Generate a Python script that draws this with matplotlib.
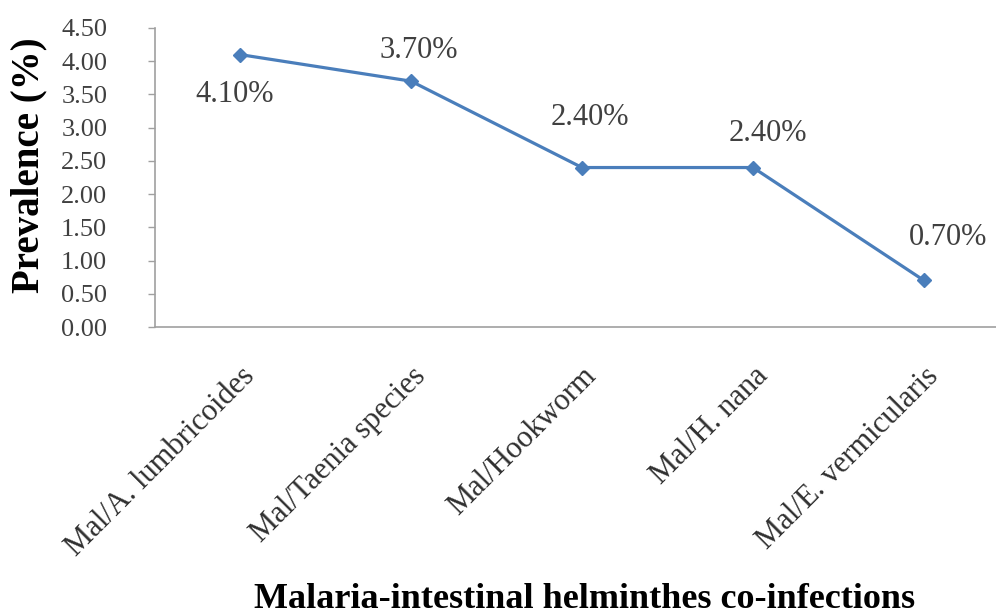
import matplotlib
matplotlib.use("Agg")
import matplotlib.pyplot as plt
from matplotlib.ticker import MultipleLocator

categories = ["Mal/A. lumbricoides", "Mal/Taenia species", "Mal/Hookworm",
              "Mal/H. nana", "Mal/E. vermicularis"]
prevalence = [4.10, 3.70, 2.40, 2.40, 0.70]
value_labels = ["4.10%", "3.70%", "2.40%", "2.40%", "0.70%"]
# label offsets in pixels (dx, dy) relative to each point
label_offsets = [(-5, -40), (8, 31), (8, 50), (15, 34), (24, 43)]

plt.rcParams['font.family'] = ['Liberation Serif', 'DejaVu Serif']

fig = plt.figure(figsize=(9.96, 6.16), dpi=100)
ax = fig.add_axes([154.5/996, (616-327)/616, 855/996, 299/616])

line_color = "#4a7ebb"
x = list(range(len(categories)))
ax.plot(x, prevalence, color=line_color, linewidth=2.3, marker="D",
        markersize=7.5, markerfacecolor=line_color, markeredgecolor=line_color)

px = 0.72
for xi, yi, lab, (dx, dy) in zip(x, prevalence, value_labels, label_offsets):
    ax.annotate(lab, (xi, yi), xytext=(dx*px, dy*px), textcoords="offset points",
                ha="center", va="center", fontsize=22, color="#404040")

ax.set_xlim(-0.5, len(categories) - 0.5)
ax.set_ylim(0, 4.5)
ax.yaxis.set_major_locator(MultipleLocator(0.5))
ax.yaxis.set_major_formatter(matplotlib.ticker.FormatStrFormatter("%.2f"))

ax.set_xticks(x)
ax.set_xticklabels(categories, rotation=45, ha="right", rotation_mode="anchor",
                   fontsize=22, color="#303030")
ax.tick_params(axis="x", length=0, pad=25)
ax.tick_params(axis="y", length=5, width=1, color="#a0a0a0", direction="out",
               labelsize=19, labelcolor="#404040", pad=29)
for lab in ax.get_yticklabels():
    lab.set_horizontalalignment("right")

for s in ["top", "right"]:
    ax.spines[s].set_visible(False)
for s in ["left", "bottom"]:
    ax.spines[s].set_color("#a0a0a0")
    ax.spines[s].set_linewidth(1.2)

ax.set_ylabel("Prevalence (%)", fontsize=28, fontweight="bold", color="black")
ax.yaxis.set_label_coords((47 - 154.5)/855, (327 - 165)/299)

fig.text(585/996, 1 - 600/616, "Malaria-intestinal helminthes co-infections",
         ha="center", va="center", fontsize=26, fontweight="bold", color="black")

fig.savefig("out.png", dpi=100)
